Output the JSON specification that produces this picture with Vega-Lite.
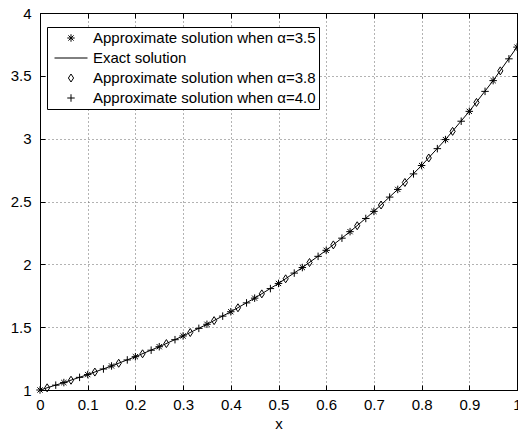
{
  "$schema": "https://vega.github.io/schema/vega-lite/v6.json",
  "width": 477,
  "height": 377,
  "autosize": {"type": "none"},
  "padding": {"left": 40, "top": 13, "right": 1, "bottom": 44},
  "background": "white",
  "datasets": {
    "exact": [
      {"x": 0, "y": 1.0},
      {"x": 0.05, "y": 1.0591},
      {"x": 0.1, "y": 1.1227},
      {"x": 0.15, "y": 1.1912},
      {"x": 0.2, "y": 1.265},
      {"x": 0.25, "y": 1.3445},
      {"x": 0.3, "y": 1.4302},
      {"x": 0.35, "y": 1.5228},
      {"x": 0.4, "y": 1.6228},
      {"x": 0.45, "y": 1.7309},
      {"x": 0.5, "y": 1.8479},
      {"x": 0.55, "y": 1.9744},
      {"x": 0.6, "y": 2.1115},
      {"x": 0.65, "y": 2.2601},
      {"x": 0.7, "y": 2.4212},
      {"x": 0.75, "y": 2.5961},
      {"x": 0.8, "y": 2.7862},
      {"x": 0.85, "y": 2.9927},
      {"x": 0.9, "y": 3.2173},
      {"x": 0.95, "y": 3.4619},
      {"x": 1.0, "y": 3.7285}
    ],
    "pts": [
      {"series": "Approximate solution when α=3.5", "x": 0, "y": 1.0},
      {"series": "Approximate solution when α=3.5", "x": 0.05, "y": 1.0591},
      {"series": "Approximate solution when α=3.5", "x": 0.1, "y": 1.1227},
      {"series": "Approximate solution when α=3.5", "x": 0.15, "y": 1.1912},
      {"series": "Approximate solution when α=3.5", "x": 0.2, "y": 1.265},
      {"series": "Approximate solution when α=3.5", "x": 0.25, "y": 1.3445},
      {"series": "Approximate solution when α=3.5", "x": 0.3, "y": 1.4302},
      {"series": "Approximate solution when α=3.5", "x": 0.35, "y": 1.5228},
      {"series": "Approximate solution when α=3.5", "x": 0.4, "y": 1.6228},
      {"series": "Approximate solution when α=3.5", "x": 0.45, "y": 1.7309},
      {"series": "Approximate solution when α=3.5", "x": 0.5, "y": 1.8479},
      {"series": "Approximate solution when α=3.5", "x": 0.55, "y": 1.9744},
      {"series": "Approximate solution when α=3.5", "x": 0.6, "y": 2.1115},
      {"series": "Approximate solution when α=3.5", "x": 0.65, "y": 2.2601},
      {"series": "Approximate solution when α=3.5", "x": 0.7, "y": 2.4212},
      {"series": "Approximate solution when α=3.5", "x": 0.75, "y": 2.5961},
      {"series": "Approximate solution when α=3.5", "x": 0.8, "y": 2.7862},
      {"series": "Approximate solution when α=3.5", "x": 0.85, "y": 2.9927},
      {"series": "Approximate solution when α=3.5", "x": 0.9, "y": 3.2173},
      {"series": "Approximate solution when α=3.5", "x": 0.95, "y": 3.4619},
      {"series": "Approximate solution when α=3.5", "x": 1.0, "y": 3.7285},
      {"series": "Approximate solution when α=3.8", "x": 0.015, "y": 1.0173},
      {"series": "Approximate solution when α=3.8", "x": 0.065, "y": 1.0777},
      {"series": "Approximate solution when α=3.8", "x": 0.115, "y": 1.1427},
      {"series": "Approximate solution when α=3.8", "x": 0.165, "y": 1.2128},
      {"series": "Approximate solution when α=3.8", "x": 0.215, "y": 1.2882},
      {"series": "Approximate solution when α=3.8", "x": 0.265, "y": 1.3695},
      {"series": "Approximate solution when α=3.8", "x": 0.315, "y": 1.4572},
      {"series": "Approximate solution when α=3.8", "x": 0.365, "y": 1.552},
      {"series": "Approximate solution when α=3.8", "x": 0.415, "y": 1.6543},
      {"series": "Approximate solution when α=3.8", "x": 0.465, "y": 1.765},
      {"series": "Approximate solution when α=3.8", "x": 0.515, "y": 1.8848},
      {"series": "Approximate solution when α=3.8", "x": 0.565, "y": 2.0144},
      {"series": "Approximate solution when α=3.8", "x": 0.615, "y": 2.1548},
      {"series": "Approximate solution when α=3.8", "x": 0.665, "y": 2.3071},
      {"series": "Approximate solution when α=3.8", "x": 0.715, "y": 2.4722},
      {"series": "Approximate solution when α=3.8", "x": 0.765, "y": 2.6514},
      {"series": "Approximate solution when α=3.8", "x": 0.815, "y": 2.8463},
      {"series": "Approximate solution when α=3.8", "x": 0.865, "y": 3.0582},
      {"series": "Approximate solution when α=3.8", "x": 0.915, "y": 3.2885},
      {"series": "Approximate solution when α=3.8", "x": 0.965, "y": 3.5395},
      {"series": "Approximate solution when α=4.0", "x": 0.033, "y": 1.0385},
      {"series": "Approximate solution when α=4.0", "x": 0.083, "y": 1.1006},
      {"series": "Approximate solution when α=4.0", "x": 0.133, "y": 1.1673},
      {"series": "Approximate solution when α=4.0", "x": 0.183, "y": 1.2393},
      {"series": "Approximate solution when α=4.0", "x": 0.233, "y": 1.3168},
      {"series": "Approximate solution when α=4.0", "x": 0.283, "y": 1.4004},
      {"series": "Approximate solution when α=4.0", "x": 0.333, "y": 1.4905},
      {"series": "Approximate solution when α=4.0", "x": 0.383, "y": 1.5879},
      {"series": "Approximate solution when α=4.0", "x": 0.433, "y": 1.6932},
      {"series": "Approximate solution when α=4.0", "x": 0.483, "y": 1.807},
      {"series": "Approximate solution when α=4.0", "x": 0.533, "y": 1.9303},
      {"series": "Approximate solution when α=4.0", "x": 0.583, "y": 2.0636},
      {"series": "Approximate solution when α=4.0", "x": 0.633, "y": 2.2082},
      {"series": "Approximate solution when α=4.0", "x": 0.683, "y": 2.365},
      {"series": "Approximate solution when α=4.0", "x": 0.733, "y": 2.535},
      {"series": "Approximate solution when α=4.0", "x": 0.783, "y": 2.7197},
      {"series": "Approximate solution when α=4.0", "x": 0.833, "y": 2.9206},
      {"series": "Approximate solution when α=4.0", "x": 0.883, "y": 3.1389},
      {"series": "Approximate solution when α=4.0", "x": 0.933, "y": 3.3764},
      {"series": "Approximate solution when α=4.0", "x": 0.983, "y": 3.6352}
    ]
  },
  "layer": [
    {
      "data": {"name": "exact"},
      "mark": {"type": "line", "color": "black", "strokeWidth": 1},
      "encoding": {
        "x": {
          "field": "x", "type": "quantitative",
          "scale": {"domain": [0, 1], "nice": false, "zero": false},
          "axis": {
            "orient": "bottom",
            "values": [0, 0.1, 0.2, 0.3, 0.4, 0.5, 0.6, 0.7, 0.8, 0.9, 1],
            "format": "~g",
            "grid": true,
            "title": "x",
            "labelPadding": 12,
            "titlePadding": 4
          }
        },
        "y": {
          "field": "y", "type": "quantitative",
          "scale": {"domain": [1, 4], "nice": false, "zero": false},
          "axis": {
            "orient": "left",
            "values": [1, 1.5, 2, 2.5, 3, 3.5, 4],
            "format": "~g",
            "grid": true,
            "title": null,
            "labelPadding": 14
          }
        }
      }
    },
    {
      "data": {"name": "pts"},
      "mark": {"type": "point", "filled": false, "color": "black", "strokeWidth": 1, "opacity": 1},
      "encoding": {
        "x": {
          "field": "x", "type": "quantitative",
          "axis": {"orient": "top", "labels": false, "grid": false, "title": null, "values": [0, 0.1, 0.2, 0.3, 0.4, 0.5, 0.6, 0.7, 0.8, 0.9, 1]}
        },
        "y": {
          "field": "y", "type": "quantitative",
          "axis": {"orient": "right", "labels": false, "grid": false, "title": null, "values": [1, 1.5, 2, 2.5, 3, 3.5, 4]}
        },
        "shape": {
          "field": "series", "type": "nominal",
          "scale": {
            "domain": ["Approximate solution when α=3.5", "Exact solution", "Approximate solution when α=3.8", "Approximate solution when α=4.0"],
            "range": [
              "M-1,0L1,0M0,-1L0,1M-0.7,-0.7L0.7,0.7M-0.7,0.7L0.7,-0.7",
              "stroke",
              "M0,-1L0.65,0L0,1L-0.65,0Z",
              "M-1,0L1,0M0,-1L0,1"
            ]
          },
          "legend": {"title": null}
        },
        "size": {
          "field": "series", "type": "nominal",
          "scale": {
            "type": "ordinal",
            "domain": ["Approximate solution when α=3.5", "Exact solution", "Approximate solution when α=3.8", "Approximate solution when α=4.0"],
            "range": [56, 1089, 64, 56]
          },
          "legend": {"title": null}
        }
      }
    }
  ],
  "resolve": {"axis": {"x": "independent", "y": "independent"}},
  "config": {
    "font": "Liberation Sans",
    "view": {"stroke": "black", "strokeWidth": 1},
    "axis": {
      "labelFont": "Liberation Sans",
      "labelFontSize": 15,
      "labelColor": "black",
      "labelFlush": false,
      "labelOverlap": false,
      "titleFont": "Liberation Sans",
      "titleFontSize": 15,
      "titleFontWeight": "normal",
      "titleColor": "black",
      "domainColor": "black",
      "tickColor": "black",
      "tickSize": -5,
      "gridColor": "#666666",
      "gridDash": [1, 3],
      "gridOpacity": 1,
      "gridWidth": 1
    },
    "legend": {
      "orient": "none",
      "legendX": 7,
      "legendY": 14,
      "strokeColor": "black",
      "fillColor": "white",
      "padding": 3,
      "clipHeight": 16,
      "labelFont": "Liberation Sans",
      "labelFontSize": 15,
      "labelColor": "black",
      "labelOffset": 5,
      "symbolOffset": 4,
      "labelLimit": 400,
      "rowPadding": 4,
      "symbolStrokeColor": "black",
      "symbolStrokeWidth": 1,
      "symbolFillColor": "white",
      "cornerRadius": 0
    }
  }
}
